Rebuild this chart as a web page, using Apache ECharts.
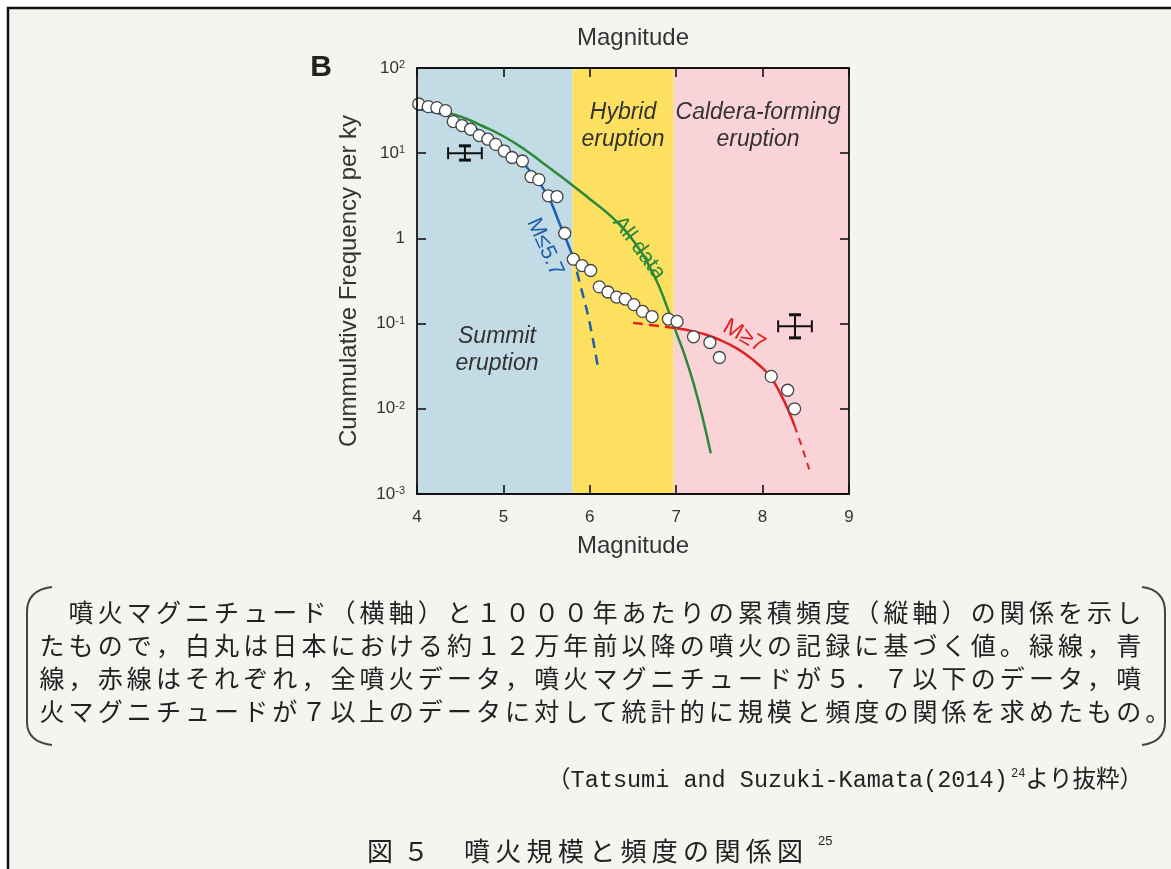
<!DOCTYPE html>
<html>
<head>
<meta charset="utf-8">
<script src="https://cdn.jsdelivr.net/npm/echarts@6/dist/echarts.min.js"></script>
<style>
  body { margin: 0; background: #fff; }
  #main { width: 1171px; height: 869px; }
</style>
</head>
<body>
<div id="main"></div>
<script>
// observed eruptions (white circles)
var circleMag = [4.02, 4.13, 4.23, 4.33, 4.42, 4.52, 4.62, 4.72, 4.82, 4.91, 5.01, 5.10, 5.22, 5.32, 5.41, 5.52, 5.62,
  5.71, 5.81, 5.91, 6.01, 6.11, 6.21, 6.31, 6.41, 6.51, 6.61, 6.72, 6.91, 7.01, 7.20, 7.39, 7.50, 8.10, 8.29, 8.37];
var circleFreq = [37.8, 35.2, 34.3, 31.6, 23.5, 21.1, 19.1, 16.1, 14.6, 12.7, 10.6, 8.9, 8.1, 5.3, 4.9, 3.16, 3.1,
  1.15, 0.57, 0.48, 0.42, 0.27, 0.235, 0.205, 0.194, 0.167, 0.139, 0.121, 0.113, 0.106, 0.070, 0.060, 0.040, 0.024, 0.0165, 0.010];

// green: all data
var allMag = [4.0, 4.25, 4.5, 4.75, 5.0, 5.25, 5.5, 5.75, 6.0, 6.25, 6.5, 6.75, 6.9, 7.0, 7.1, 7.2, 7.3, 7.4];
var allFreq = [33, 31, 27, 21, 15.8, 11, 7.1, 4.6, 2.9, 1.8, 0.95, 0.355, 0.151, 0.079, 0.042, 0.02, 0.0083, 0.003];

// blue: M<=5.7
var lowMag = [4.0, 4.25, 4.5, 4.75, 5.0, 5.25, 5.5, 5.65, 5.8];
var lowFreq = [33, 29.5, 24, 17.8, 12, 7.2, 3.3, 1.5, 0.63];
var lowDashMag = [5.8, 5.9, 6.0, 6.1];
var lowDashFreq = [0.63, 0.26, 0.1, 0.028];

// red: M>=7
var highMag = [7.0, 7.2, 7.4, 7.6, 7.8, 8.0, 8.1, 8.2, 8.3, 8.37];
var highFreq = [0.088, 0.081, 0.071, 0.058, 0.044, 0.03, 0.023, 0.0155, 0.0095, 0.0063];
var highDashLeftMag = [6.5, 6.75, 7.0];
var highDashLeftFreq = [0.102, 0.095, 0.088];
var highDashRightMag = [8.37, 8.45, 8.55];
var highDashRightFreq = [0.0063, 0.0037, 0.0018];

// error bars
var errMag = [4.555, 8.375];
var errFreq = [10, 0.093];
var errMagLo = [4.36, 8.18];
var errMagHi = [4.75, 8.57];
var errFreqLo = [8.3, 0.068];
var errFreqHi = [12.2, 0.127];

// eruption type bands
var bandFrom = [4, 5.8, 6.97];
var bandTo = [5.8, 6.97, 9];
var bandColor = ['#c3dbe4', '#fde060', '#f9d3d7'];

function pairs(xs, ys) {
  return xs.map(function (x, i) { return [x, ys[i]]; });
}

var para = [
  '\u3000噴火マグニチュード（横軸）と１０００年あたりの累積頻度（縦軸）の関係を示し',
  'たもので，白丸は日本における約１２万年前以降の噴火の記録に基づく値。緑線，青',
  '線，赤線はそれぞれ，全噴火データ，噴火マグニチュードが５．７以下のデータ，噴',
  '火マグニチュードが７以上のデータに対して統計的に規模と頻度の関係を求めたもの。'
];
var caption = '噴火規模と頻度の関係図';

var jpFont = '"Noto Sans CJK JP", sans-serif';
var latin = '"Liberation Sans", Arial, sans-serif';
var ink = '#222';

function label(x, y, text, font, fill, rot) {
  return { type: 'text', x: x, y: y, rotation: rot || 0, z: 10,
    style: { text: text, font: font, fill: fill, align: 'center', verticalAlign: 'middle' } };
}

var graphics = [
  // frame
  { type: 'rect', shape: { x: 8, y: 8, width: 1200, height: 900 }, style: { fill: '#f6f4f0', stroke: '#111', lineWidth: 2.5 }, z: -10 },
  label(321, 68, 'B', 'bold 30px ' + latin, '#222'),
  label(623, 113, 'Hybrid', 'italic 23px ' + latin, '#333'),
  label(623, 140, 'eruption', 'italic 23px ' + latin, '#333'),
  label(758, 113, 'Caldera-forming', 'italic 23px ' + latin, '#333'),
  label(758, 140, 'eruption', 'italic 23px ' + latin, '#333'),
  label(497, 337, 'Summit', 'italic 23px ' + latin, '#333'),
  label(497, 364, 'eruption', 'italic 23px ' + latin, '#333'),
  label(639, 248, 'All data', '22px ' + latin, '#2a8a3a', -0.93),
  label(545, 247, 'M≤5.7', '22px ' + latin, '#1f5fb0', -1.15),
  label(744, 336, 'M≥7', '23px ' + latin, '#e0201e', -0.52),
  // brackets
  { type: 'bezierCurve', shape: { x1: 52, y1: 587, cpx1: 27, cpy1: 590, x2: 27, y2: 612 }, style: { stroke: '#444', lineWidth: 2, fill: null } },
  { type: 'line', shape: { x1: 27, y1: 612, x2: 27, y2: 722 }, style: { stroke: '#444', lineWidth: 2 } },
  { type: 'bezierCurve', shape: { x1: 27, y1: 722, cpx1: 27, cpy1: 742, x2: 52, y2: 745 }, style: { stroke: '#444', lineWidth: 2, fill: null } },
  { type: 'bezierCurve', shape: { x1: 1142, y1: 587, cpx1: 1165, cpy1: 590, x2: 1165, y2: 612 }, style: { stroke: '#444', lineWidth: 2, fill: null } },
  { type: 'line', shape: { x1: 1165, y1: 612, x2: 1165, y2: 722 }, style: { stroke: '#444', lineWidth: 2 } },
  { type: 'bezierCurve', shape: { x1: 1165, y1: 722, cpx1: 1165, cpy1: 742, x2: 1142, y2: 745 }, style: { stroke: '#444', lineWidth: 2, fill: null } },
  // citation
  { type: 'text', x: 1143, y: 781, style: {
      text: '{a|（Tatsumi and Suzuki-Kamata(2014)} {s|24}{a|より抜粋）}',
      align: 'right', verticalAlign: 'middle',
      rich: {
        a: { font: '23.5px "Liberation Mono", ' + jpFont, fill: ink, lineHeight: 26 },
        s: { font: '12px "Liberation Mono", monospace', fill: ink, verticalAlign: 'top', lineHeight: 12 }
      } } },
  // caption
  label(380, 851, '図', '26px ' + jpFont, ink),
  label(416, 851, '５', '26px ' + jpFont, ink),
  { type: 'text', x: 818, y: 841, style: { text: '25', font: '13px ' + latin, fill: ink, align: 'left', verticalAlign: 'middle' } }
];

// paragraph, one character per cell like the justified print
para.forEach(function (line, r) {
  Array.from(line).forEach(function (ch, i) {
    graphics.push(label(52 + i * 29.1, 612 + r * 33, ch, '25px ' + jpFont, ink));
  });
});
Array.from(caption).forEach(function (ch, i) {
  graphics.push(label(477 + i * 31.3, 851, ch, '26px ' + jpFont, ink));
});

function logLabel(v) {
  var e = Math.round(Math.log10(v));
  if (e === 0) return '1';
  return '10{sup|' + e + '}';
}

var tickStyle = { show: true, inside: true, length: 9, lineStyle: { color: '#111', width: 1.6 } };
var lineStyleAxis = { show: true, lineStyle: { color: '#111', width: 1.8 } };
var nameStyle = { fontSize: 24, color: '#333', fontFamily: 'Liberation Sans' };

var chart = echarts.init(document.getElementById('main'));
chart.setOption({
  backgroundColor: '#ffffff',
  animation: false,
  graphic: graphics,
  grid: { left: 417, right: 322, top: 68, bottom: 375 },
  xAxis: [{
    type: 'value', min: 4, max: 9, interval: 1, position: 'bottom', z: 10,
    name: 'Magnitude', nameLocation: 'middle', nameGap: 40, nameTextStyle: nameStyle,
    axisLine: lineStyleAxis, axisTick: tickStyle, splitLine: { show: false },
    axisLabel: { fontSize: 17, color: '#333', margin: 15, fontFamily: 'Liberation Sans' }
  }, {
    type: 'value', min: 4, max: 9, interval: 1, position: 'top', z: 10,
    name: 'Magnitude', nameLocation: 'middle', nameGap: 18, nameTextStyle: nameStyle,
    axisLine: lineStyleAxis, axisTick: tickStyle, splitLine: { show: false },
    axisLabel: { show: false }
  }],
  yAxis: [{
    type: 'log', logBase: 10, min: 0.001, max: 100, position: 'left', z: 10,
    name: 'Cummulative Frequency per ky', nameLocation: 'middle', nameGap: 56, nameRotate: 90,
    nameTextStyle: nameStyle,
    axisLine: lineStyleAxis, axisTick: tickStyle, splitLine: { show: false },
    axisLabel: {
      margin: 12, color: '#333', fontSize: 17, fontFamily: 'Liberation Sans',
      formatter: logLabel,
      rich: { sup: { fontSize: 11, verticalAlign: 'top', lineHeight: 10, color: '#333', fontFamily: 'Liberation Sans' } }
    }
  }, {
    type: 'log', logBase: 10, min: 0.001, max: 100, position: 'right', z: 10,
    axisLine: lineStyleAxis, axisTick: tickStyle, splitLine: { show: false },
    axisLabel: { show: false }
  }],
  series: [{
    type: 'line', data: [], silent: true, z: 1,
    markArea: {
      silent: true,
      data: bandFrom.map(function (f, i) {
        return [{ xAxis: f, itemStyle: { color: bandColor[i], opacity: 1 } }, { xAxis: bandTo[i] }];
      })
    }
  }, {
    type: 'line', data: pairs(allMag, allFreq), smooth: true, symbol: 'none', z: 3,
    lineStyle: { color: '#2a8a3a', width: 2.5 }
  }, {
    type: 'line', data: pairs(lowMag, lowFreq), smooth: true, symbol: 'none', z: 3,
    lineStyle: { color: '#1f5fb0', width: 2.5 }
  }, {
    type: 'line', data: pairs(lowDashMag, lowDashFreq), smooth: true, symbol: 'none', z: 3,
    lineStyle: { color: '#1f5fb0', width: 2.5, type: [10, 7] }
  }, {
    type: 'line', data: pairs(highDashLeftMag, highDashLeftFreq), smooth: true, symbol: 'none', z: 3,
    lineStyle: { color: '#e0201e', width: 2.5, type: [10, 6] }
  }, {
    type: 'line', data: pairs(highMag, highFreq), smooth: true, symbol: 'none', z: 3,
    lineStyle: { color: '#e0201e', width: 2.5 }
  }, {
    type: 'line', data: pairs(highDashRightMag, highDashRightFreq), smooth: true, symbol: 'none', z: 3,
    lineStyle: { color: '#e0201e', width: 2, type: [7, 6] }
  }, {
    type: 'scatter', data: pairs(circleMag, circleFreq), symbol: 'circle', symbolSize: 12, z: 5,
    itemStyle: { color: '#ffffff', borderColor: '#444', borderWidth: 1.3, opacity: 1 }
  }, {
    type: 'custom', z: 6,
    data: errMag.map(function (m, i) { return [m, errFreq[i], errMagLo[i], errMagHi[i], errFreqLo[i], errFreqHi[i]]; }),
    encode: { x: 0, y: 1 },
    renderItem: function (params, api) {
      var c = api.coord([api.value(0), api.value(1)]);
      var l = api.coord([api.value(2), api.value(1)]);
      var r = api.coord([api.value(3), api.value(1)]);
      var lo = api.coord([api.value(0), api.value(4)]);
      var hi = api.coord([api.value(0), api.value(5)]);
      var st = { stroke: '#111', lineWidth: 2 };
      var cap = 6;
      return { type: 'group', children: [
        { type: 'line', shape: { x1: l[0], y1: c[1], x2: r[0], y2: c[1] }, style: st },
        { type: 'line', shape: { x1: l[0], y1: c[1] - cap, x2: l[0], y2: c[1] + cap }, style: st },
        { type: 'line', shape: { x1: r[0], y1: c[1] - cap, x2: r[0], y2: c[1] + cap }, style: st },
        { type: 'line', shape: { x1: c[0], y1: lo[1], x2: c[0], y2: hi[1] }, style: st },
        { type: 'line', shape: { x1: c[0] - cap, y1: lo[1], x2: c[0] + cap, y2: lo[1] }, style: { stroke: '#111', lineWidth: 3 } },
        { type: 'line', shape: { x1: c[0] - cap, y1: hi[1], x2: c[0] + cap, y2: hi[1] }, style: { stroke: '#111', lineWidth: 3 } }
      ] };
    }
  }]
});
</script>
</body>
</html>
